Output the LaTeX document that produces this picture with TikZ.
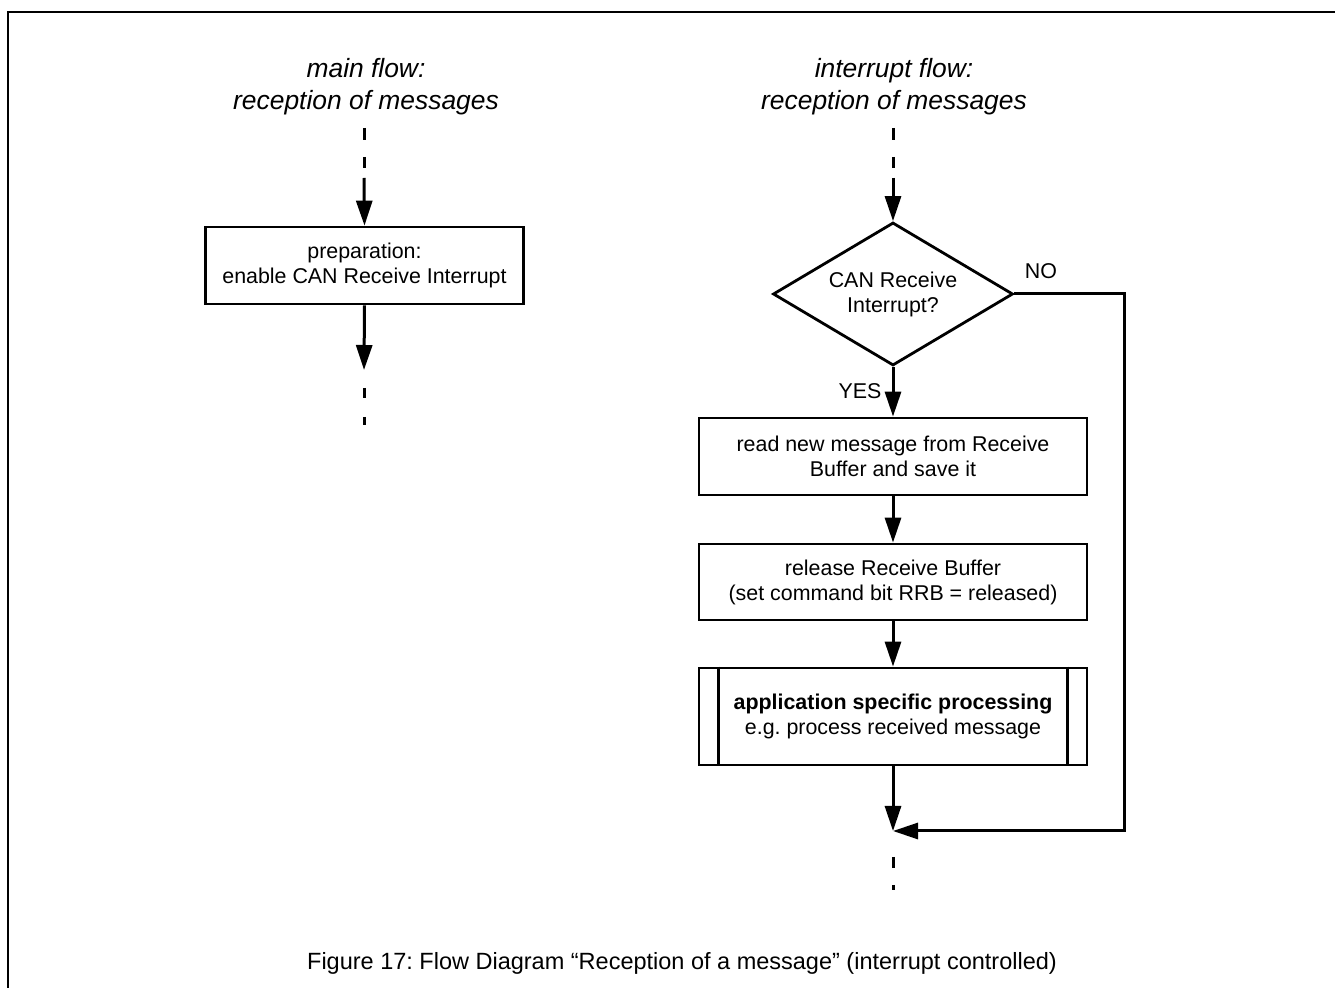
\documentclass[tikz,border=0pt]{standalone}
\usepackage{fontspec}
\setmainfont{Liberation Sans}
\usetikzlibrary{shapes.geometric,arrows.meta}
\frenchspacing

\begin{document}
\begin{tikzpicture}[x=0.5pt,y=-0.5pt,
  every node/.style={inner sep=0pt, align=center,
    font=\fontsize{10.7}{12.5}\selectfont},
  stepbox/.style={draw, line width=1.4pt, minimum width=194pt, minimum height=38.5pt},
  decision/.style={draw, diamond, line width=1.4pt, aspect=1.68,
    minimum width=120pt, minimum height=71.5pt},
  heading/.style={font=\itshape\fontsize{13.2}{16}\selectfont},
  flow/.style={line width=1.5pt, -{Triangle[length=12.5pt,width=8pt]}},
  leadin/.style={line width=1.5pt, dash pattern=on 6pt off 8.5pt on 5.5pt off 5pt},
  leadout/.style={line width=1.5pt, dash pattern=on 5pt off 9.5pt on 4pt}]

\useasboundingbox (0,0) rectangle (1335,988);

% frame
\draw[line width=1pt] (8,988) -- (8,12) -- (1335,12);

% ---------- main flow ----------
\node[heading] (mainhead) at (366,87) {main flow:\\reception of messages};
\coordinate (Lin) at (364,128);
\coordinate (Lsolid) at (364,178);
\node[stepbox, minimum width=159pt] (prep) at (364.5,265.5)
  {preparation:\\enable CAN Receive Interrupt};
\coordinate (Lout) at (364,370);
\coordinate (Ltail) at (364,388);
\coordinate (Lend) at (364,425);

\draw[leadin] (Lin) -- (Lsolid);
\draw[flow] (Lsolid) -- (prep.north);
\draw[flow] (prep.south) -- (Lout);
\draw[leadout] (Ltail) -- (Lend);

% ---------- interrupt flow ----------
\node[heading] (inthead) at (894,87) {interrupt flow:\\reception of messages};
\coordinate (Rin) at (893,128);
\coordinate (Rsolid) at (893,178);
\node[decision] (dec) at (893,294) {CAN Receive\\Interrupt?};
\node[stepbox] (read) at (893,456.5) {read new message from Receive\\Buffer and save it};
\node[stepbox, minimum height=38pt] (release) at (893,582)
  {release Receive Buffer\\(set command bit RRB = released)};
\node[stepbox, minimum height=48.5pt] (app) at (893,716.5)
  {\textbf{application specific processing}\\e.g. process received message};
\draw[line width=1.4pt] ([xshift=10.5pt]app.north west) -- ([xshift=10.5pt]app.south west);
\draw[line width=1.4pt] ([xshift=-10.5pt]app.north east) -- ([xshift=-10.5pt]app.south east);

\coordinate (merge) at (893,831);
\coordinate (nobend) at (1124,831);
\coordinate (Rtail) at (893,857);
\coordinate (Rend) at (893,890);

\node (yes) at (860,391) {YES};
\node (no) at (1041,271) {NO};

\draw[leadin] (Rin) -- (Rsolid);
\draw[flow] (Rsolid) -- (dec.north);
\draw[flow] (dec.south) -- (read.north);
\draw[flow] (read.south) -- (release.north);
\draw[flow] (release.south) -- (app.north);
\draw[flow] (app.south) -- (merge);
\draw[flow, line join=miter] (dec.east) -| (nobend) -- (merge);
\draw[line width=1.5pt, dash pattern=on 5.5pt off 8.5pt on 2.5pt] (Rtail) -- (Rend);

% caption
\node[font=\fontsize{11.75}{14}\selectfont] (caption) at (682,963)
  {Figure 17: Flow Diagram “Reception of a message” (interrupt controlled)};

\end{tikzpicture}
\end{document}
